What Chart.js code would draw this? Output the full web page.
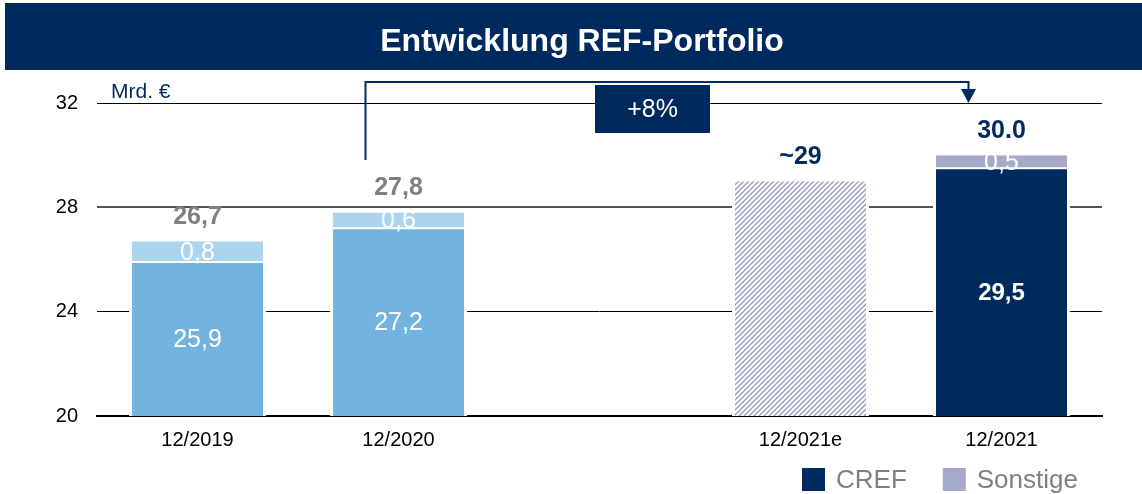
<!DOCTYPE html>
<html>
<head>
<meta charset="utf-8">
<script src="https://cdn.jsdelivr.net/npm/chart.js@4.4.0/dist/chart.umd.min.js"></script>
<style>
  html, body { margin: 0; padding: 0; background: #fff; }
  #caja { position: relative; width: 1142px; height: 494px; }
</style>
</head>
<body>
<div id="caja"><canvas id="grafica" width="1142" height="494"></canvas></div>
<script>
"use strict";

// categorias (la vacia deja el hueco entre 12/2020 y 12/2021e)
const etiquetas = ["12/2019", "12/2020", "", "12/2021e", "12/2021"];

// valores en Mrd. €
const cref = [25.9, 27.2, null, null, 29.5];
const sonstige = [0.8, 0.6, null, null, 0.5];
const estimado = [null, null, null, 29, null];

// textos encima de cada barra
const totales = ["26,7", "27,8", "", "~29", "30.0"];

const ticksY = [20, 24, 28, 32];
const titulo = "Entwicklung REF-Portfolio";
const unidad = "Mrd. €";
const crecimiento = "+8%";
const leyenda = ["CREF", "Sonstige"];

// colores
const azul = "#002a5e";
const celeste = "#72b4df";
const celesteClaro = "#acd4ee";
const lila = "#a5aacb";
const gris = "#808080";
const fuente = "'Liberation Sans', Arial, sans-serif";

const ctx = document.getElementById("grafica").getContext("2d");

// rayado diagonal para la barra estimada
function rayado(color) {
    const c = document.createElement("canvas");
    c.width = 5;
    c.height = 5;
    const g = c.getContext("2d");
    g.fillStyle = "#fff";
    g.fillRect(0, 0, 5, 5);
    g.strokeStyle = color;
    g.lineWidth = 1.6;
    g.beginPath();
    g.moveTo(0, 5); g.lineTo(5, 0);
    g.moveTo(-1, 1); g.lineTo(1, -1);
    g.moveTo(4, 6); g.lineTo(6, 4);
    g.stroke();
    return ctx.createPattern(c, "repeat");
}

// barra de titulo, flecha, caja +8% y leyenda
const adornos = {
    id: "adornos",
    beforeDraw(chart) {
        const c = chart.ctx;
        c.save();
        c.fillStyle = azul;
        c.fillRect(5, 3, 1137, 67);
        c.fillStyle = "#fff";
        c.font = "bold 32px " + fuente;
        c.textAlign = "center";
        c.textBaseline = "alphabetic";
        c.fillText(titulo, 582, 51);
        c.restore();
    },
    afterDraw(chart) {
        const c = chart.ctx;
        const area = chart.chartArea;
        const xs = chart.scales.x;
        c.save();

        // unidad
        c.fillStyle = azul;
        c.font = "21px " + fuente;
        c.textAlign = "left";
        c.textBaseline = "alphabetic";
        c.fillText(unidad, 111, 98);

        // flecha de 12/2020 a 12/2021
        const x1 = xs.getPixelForValue(1) - 33;
        const x2 = xs.getPixelForValue(4) - 33;
        const yArriba = area.top - 21;
        c.strokeStyle = azul;
        c.lineWidth = 2;
        c.beginPath();
        c.moveTo(x1, area.top + 57);
        c.lineTo(x1, yArriba);
        c.lineTo(x2, yArriba);
        c.lineTo(x2, area.top - 14);
        c.stroke();
        c.fillStyle = azul;
        c.beginPath();
        c.moveTo(x2 - 7.5, area.top - 14);
        c.lineTo(x2 + 7.5, area.top - 14);
        c.lineTo(x2, area.top);
        c.closePath();
        c.fill();

        // caja +8%
        c.fillRect(595, 85, 115, 48);
        c.fillStyle = "#fff";
        c.font = "25px " + fuente;
        c.textAlign = "center";
        c.textBaseline = "middle";
        c.fillText(crecimiento, 652.5, 110);

        // leyenda
        const colores = [azul, lila];
        let x = 802;
        c.font = "26px " + fuente;
        c.textAlign = "left";
        leyenda.forEach((txt, i) => {
            c.fillStyle = colores[i];
            c.fillRect(x, 468, 23, 23);
            x += 23 + 11;
            c.fillStyle = gris;
            c.fillText(txt, x, 481);
            x += c.measureText(txt).width + 36;
        });
        c.restore();
    }
};

// numeros dentro de las barras y totales encima
const etiquetasDatos = {
    id: "etiquetasDatos",
    afterDatasetsDraw(chart) {
        const c = chart.ctx;
        const abajo = chart.chartArea.bottom;
        c.save();
        c.textAlign = "center";
        c.textBaseline = "middle";
        [0, 1].forEach(di => {
            const ds = chart.data.datasets[di];
            chart.getDatasetMeta(di).data.forEach((barra, i) => {
                const v = ds.data[i];
                if (v == null) return;
                const base = Math.min(barra.base, abajo);
                const negrita = di === 0 && i === 4;
                c.font = (negrita ? "bold 24px " : "25px ") + fuente;
                c.fillStyle = "#fff";
                c.fillText(v.toFixed(1).replace(".", ","), barra.x, (barra.y + base) / 2 + 1);
            });
        });

        etiquetas.forEach((e, i) => {
            if (!totales[i]) return;
            let arriba = Infinity;
            let x = 0;
            chart.data.datasets.forEach((ds, di) => {
                if (ds.data[i] == null) return;
                const barra = chart.getDatasetMeta(di).data[i];
                arriba = Math.min(arriba, barra.y);
                x = barra.x;
            });
            c.font = "bold 25px " + fuente;
            c.fillStyle = i < 2 ? gris : azul;
            c.fillText(totales[i], x, arriba - 24);
        });
        c.restore();
    }
};

new Chart(ctx, {
    type: "bar",
    data: {
        labels: etiquetas,
        datasets: [
            {
                label: "CREF",
                data: cref,
                backgroundColor: [celeste, celeste, azul, azul, azul],
                borderColor: "#fff",
                borderWidth: { left: 3, right: 3, top: 1, bottom: 0 },
                borderSkipped: false
            },
            {
                label: "Sonstige",
                data: sonstige,
                backgroundColor: [celesteClaro, celesteClaro, lila, lila, lila],
                borderColor: "#fff",
                borderWidth: { left: 3, right: 3, top: 0, bottom: 1 },
                borderSkipped: false
            },
            {
                label: "12/2021e",
                data: estimado,
                backgroundColor: rayado(lila),
                borderColor: "#fff",
                borderWidth: { left: 3, right: 3, top: 0, bottom: 0 },
                borderSkipped: false
            }
        ]
    },
    options: {
        responsive: false,
        animation: false,
        layout: { padding: { top: 103, right: 40, bottom: 48, left: 0 } },
        datasets: {
            bar: { categoryPercentage: 1, barPercentage: 137 / 201 }
        },
        plugins: {
            legend: { display: false },
            tooltip: { enabled: false }
        },
        scales: {
            x: {
                stacked: true,
                grid: { display: false, drawTicks: false },
                border: { display: true, color: "#000", width: 2 },
                ticks: { color: "#000", font: { size: 20, family: fuente }, padding: 12 },
                afterFit: s => { s.height = 30; }
            },
            y: {
                stacked: true,
                min: 20,
                max: 32,
                afterBuildTicks: s => { s.ticks = ticksY.map(v => ({ value: v })); },
                grid: {
                    drawTicks: false,
                    color: t => t.tick && t.tick.value === 28 ? "#555" : "#000",
                    lineWidth: t => t.tick && t.tick.value === 28 ? 2 : 1
                },
                border: { display: false },
                ticks: { color: "#000", font: { size: 20, family: fuente }, padding: 19 },
                afterFit: s => { s.width = 97; }
            }
        }
    },
    plugins: [adornos, etiquetasDatos]
});
</script>
</body>
</html>
